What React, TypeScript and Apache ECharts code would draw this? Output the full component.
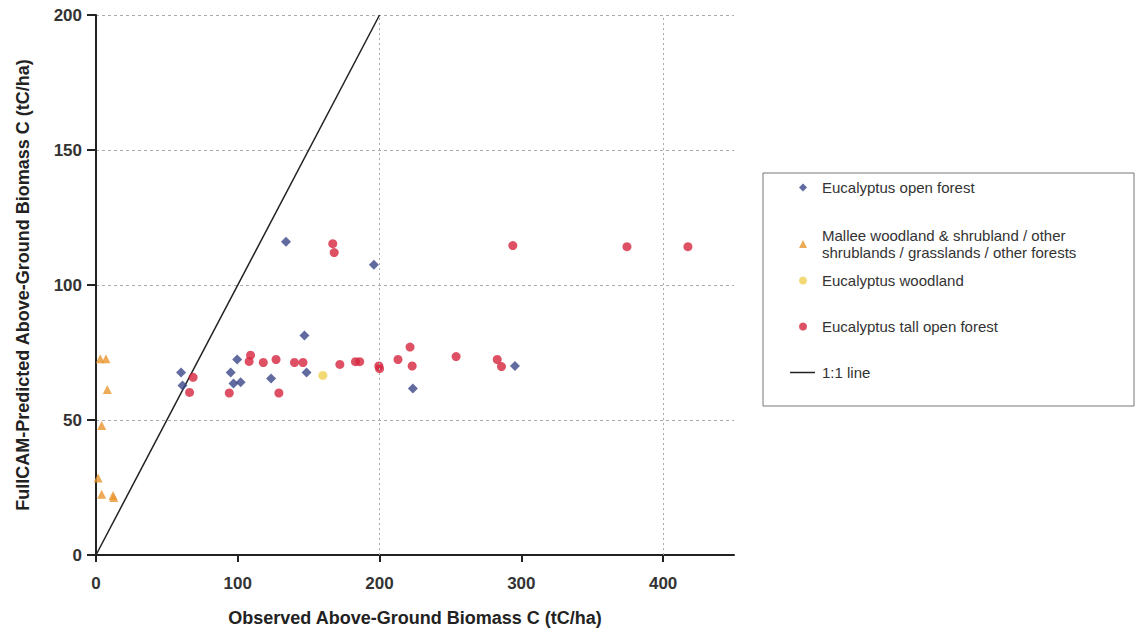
import React, { useEffect, useRef } from "react";
import * as echarts from "echarts";

const xTicks = [0, 100, 200, 300, 400];
const openForest: number[][] = [
  [60, 67.6], [61, 62.8], [95, 67.6], [97, 63.5], [99.6, 72.4], [102, 64],
  [123.5, 65.4], [134, 116], [147, 81.3], [148.5, 67.6], [196, 107.5],
  [223.5, 61.7], [295.5, 70],
];
const mallee: number[][] = [
  [3, 72.7], [7, 72.7], [8, 61.3], [4, 48], [1.5, 28.5], [4, 22.5], [12, 22], [12.5, 21.3],
];
const woodland: number[][] = [[160, 66.5]];
const tallOpen: number[][] = [
  [66, 60.2], [68.5, 65.8], [94, 60], [108, 71.7], [109, 74], [118, 71.3],
  [127, 72.4], [129, 60], [140, 71.3], [146, 71.3], [167, 115.3], [168, 112],
  [172, 70.6], [183, 71.6], [186, 71.6], [199.5, 70], [200, 69], [213, 72.4],
  [221.5, 77], [223, 70], [254, 73.5], [283, 72.4], [286, 69.8], [294, 114.6],
  [374.5, 114.2], [417.5, 114.2],
];
const oneToOne: number[][] = [[0, 0], [200, 200]];
const gridX = [200, 400];

const names = [
  "Eucalyptus open forest",
  "Mallee woodland & shrubland / other\nshrublands / grasslands / other forests",
  "Eucalyptus woodland",
  "Eucalyptus tall open forest",
  "1:1 line",
];
const legendTops = [179, 227, 272, 318, 364];

export default function App() {
  const ref = useRef<HTMLDivElement>(null);
  useEffect(() => {
    const chart = echarts.init(ref.current!, null, { renderer: "svg" });
    const font = "Arial, 'Liberation Sans', sans-serif";
    const legendText = { fontFamily: font, fontSize: 15, color: "#333", lineHeight: 17, padding: [0, 0, 0, 10] };
    const legends = names.map((n, i) => ({
      data: i === 4 ? [{ name: n, icon: "rect" }] : [n],
      left: i === 4 ? 790 : 799,
      top: legendTops[i],
      orient: "vertical",
      itemWidth: i === 4 ? 25 : 8,
      itemHeight: i === 4 ? 1.5 : 8,
      itemGap: 0,
      padding: 0,
      textStyle: i === 4 ? { ...legendText, padding: [0, 0, 0, 2] } : legendText,
      selectedMode: false,
    }));
    chart.setOption({
      animation: false,
      backgroundColor: "#ffffff",
      grid: { left: 96, right: 405, top: 15, bottom: 77 },
      legend: legends,
      graphic: [
        {
          type: "rect",
          shape: { x: 763, y: 173, width: 371, height: 233 },
          style: { fill: "none", stroke: "#777", lineWidth: 1 },
          silent: true,
        },
      ],
      xAxis: {
        type: "value",
        min: 0,
        max: 450,
        interval: 100,
        name: "Observed Above-Ground Biomass C (tC/ha)",
        nameLocation: "middle",
        nameGap: 54,
        nameTextStyle: { fontFamily: font, fontSize: 18, fontWeight: "bold", color: "#222" },
        axisLine: { lineStyle: { color: "#222", width: 2 } },
        axisTick: { show: true, length: 7, lineStyle: { color: "#222", width: 2 }, customValues: xTicks },
        axisLabel: { fontFamily: font, fontSize: 17, fontWeight: "bold", color: "#333", margin: 20, customValues: xTicks },
        splitLine: { show: false },
      },
      yAxis: {
        type: "value",
        min: 0,
        max: 200,
        interval: 50,
        name: "FullCAM-Predicted Above-Ground Biomass C (tC/ha)",
        nameLocation: "middle",
        nameGap: 64,
        nameTextStyle: { fontFamily: font, fontSize: 18, fontWeight: "bold", color: "#222" },
        axisLine: { show: true, lineStyle: { color: "#222", width: 2 } },
        axisTick: { show: true, length: 9, lineStyle: { color: "#222", width: 2 } },
        axisLabel: { fontFamily: font, fontSize: 17, fontWeight: "bold", color: "#333", margin: 14 },
        splitLine: { show: true, lineStyle: { color: "#aaa", type: [3, 3], width: 1 } },
      },
      series: [
        {
          name: names[0],
          type: "scatter",
          data: openForest,
          symbol: "diamond",
          symbolSize: 10,
          itemStyle: { color: "#3a4688" },
          z: 4,
        },
        {
          name: names[1],
          type: "scatter",
          data: mallee,
          symbol: "triangle",
          symbolSize: 9,
          itemStyle: { color: "#e8962e" },
          z: 4,
        },
        {
          name: names[2],
          type: "scatter",
          data: woodland,
          symbol: "circle",
          symbolSize: 9,
          itemStyle: { color: "#f0d050" },
          z: 4,
        },
        {
          name: names[3],
          type: "scatter",
          data: tallOpen,
          symbol: "circle",
          symbolSize: 9,
          itemStyle: { color: "#d6263f" },
          z: 3,
        },
        {
          name: names[4],
          type: "line",
          data: oneToOne,
          symbol: "none",
          itemStyle: { color: "#222" },
          lineStyle: { color: "#222", width: 1.5 },
          z: 2,
          markLine: {
            silent: true,
            symbol: "none",
            label: { show: false },
            lineStyle: { color: "#aaa", type: [2, 3], width: 1 },
            data: gridX.map((v) => ({ xAxis: v })),
          },
        },
      ],
    });
    return () => chart.dispose();
  }, []);
  return <div ref={ref} style={{ position: "fixed", left: 0, top: 0, width: 1139, height: 632 }} />;
}
